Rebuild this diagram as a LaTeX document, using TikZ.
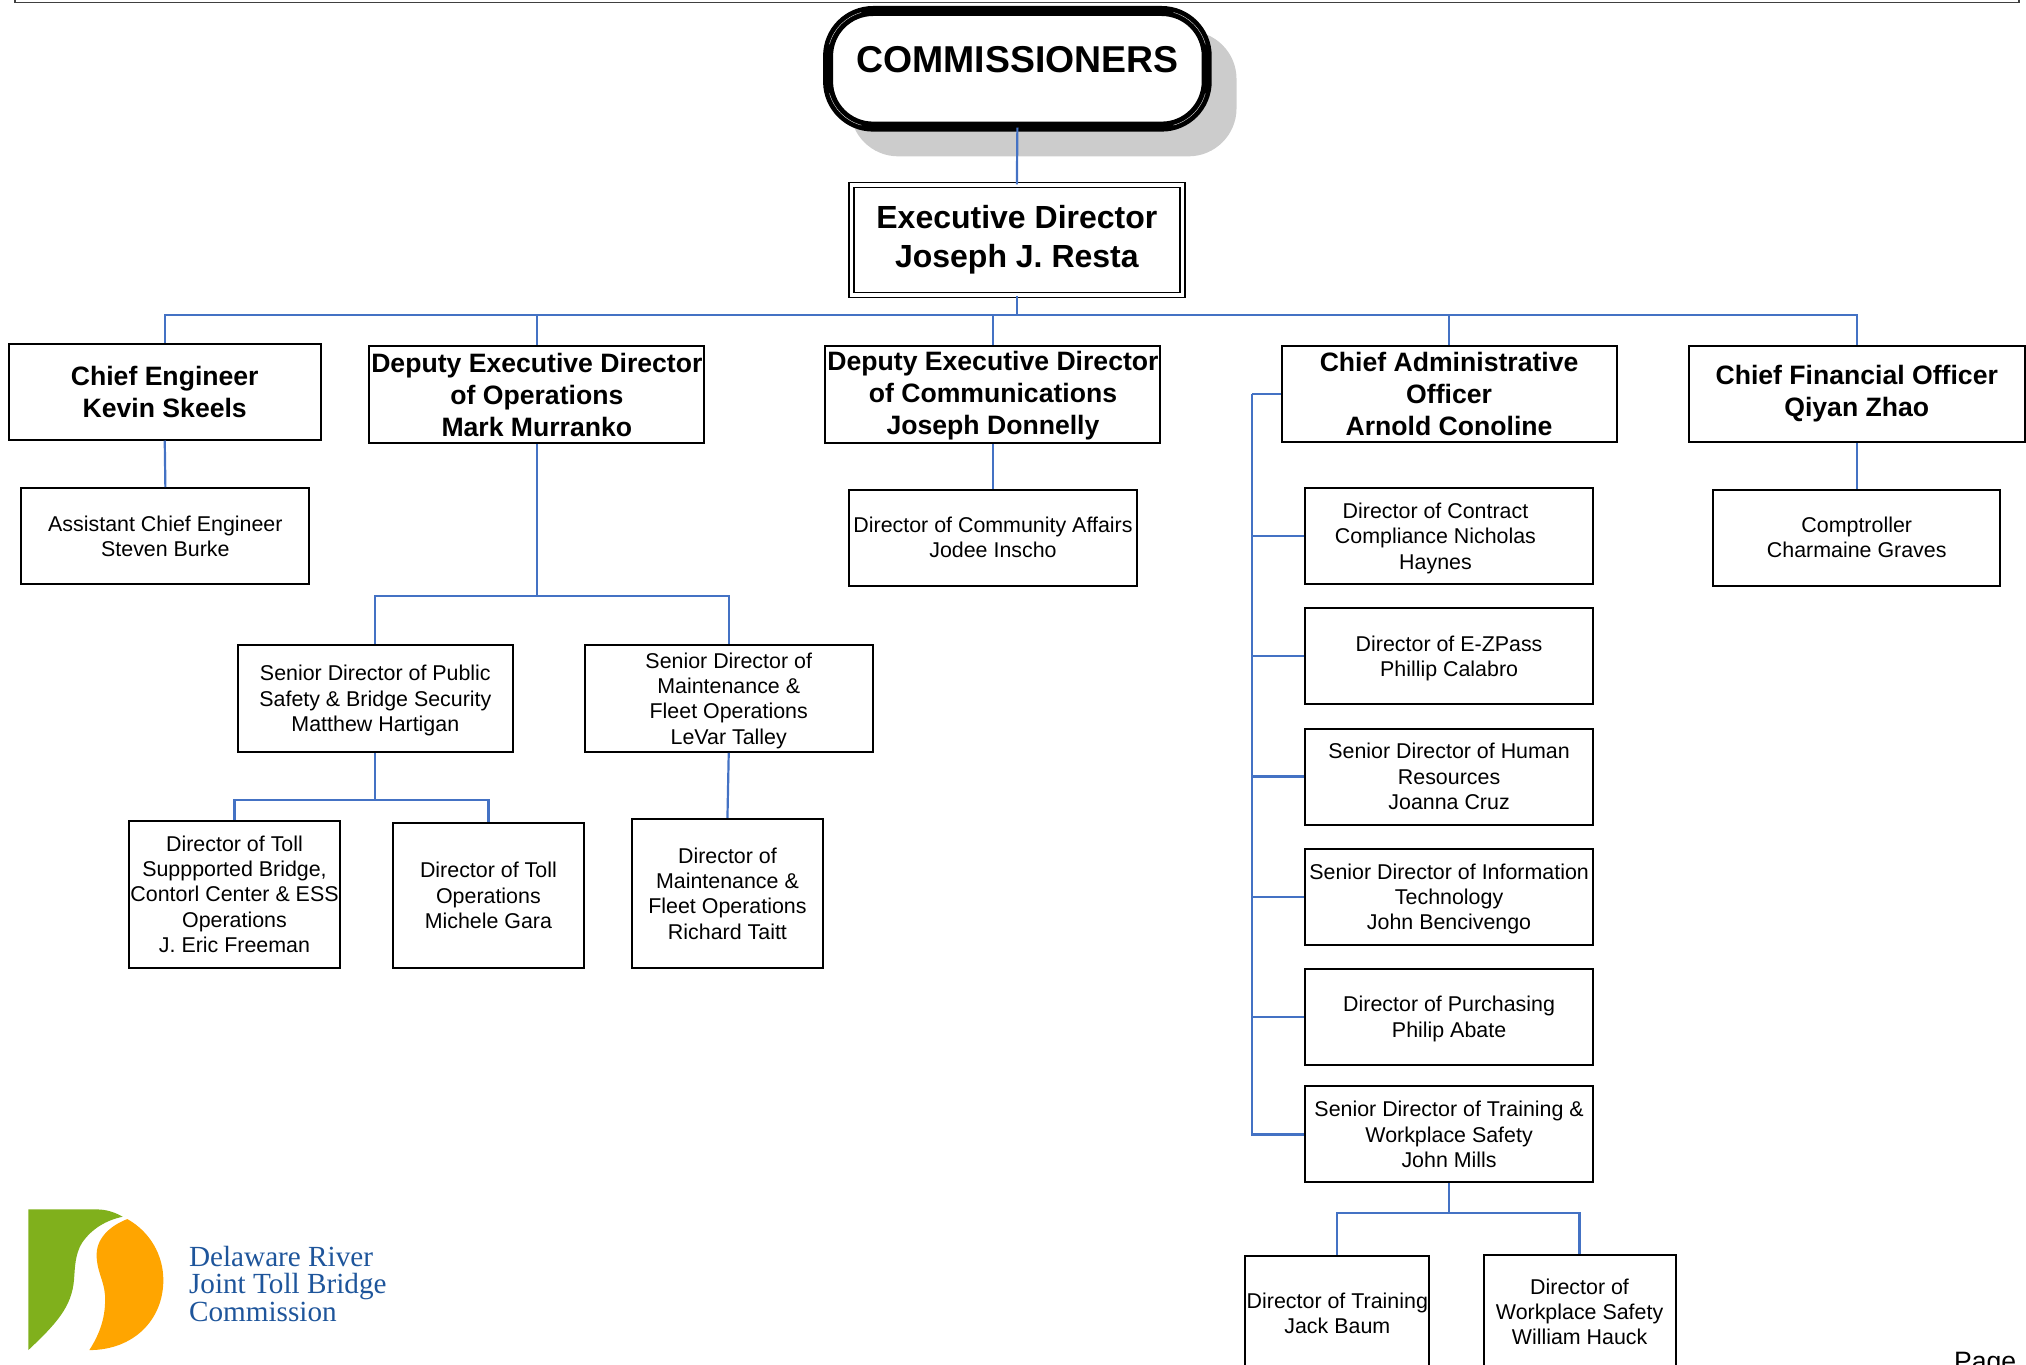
\documentclass[tikz,border=0pt]{standalone}
\usepackage{fontspec}
\setmainfont{Liberation Sans}
\newfontfamily\logofont{Liberation Serif}
\definecolor{linkblue}{RGB}{68,114,196}
\definecolor{logogreen}{RGB}{128,176,28}
\definecolor{logoorange}{RGB}{255,165,0}
\definecolor{logoblue}{RGB}{30,85,155}
\tikzset{
	orgbox/.style={draw,line width=1pt,inner sep=0pt,align=center,fill=white},
	headbox/.style={orgbox,font=\fontsize{13.3}{16}\selectfont\bfseries},
	staffbox/.style={orgbox,text depth=0pt,font=\fontsize{10.7}{12.7}\selectfont},
	link/.style={draw=linkblue,line width=1.1pt}
}
\begin{document}
\begin{tikzpicture}[x=0.646pt,y=-0.646pt]
	\clip (0,0) rectangle (1568,1056.4);
	\draw[line width=0.7pt,black!75] (11.6,-10) rectangle (1562.5,1.9);
	\fill[black!20,rounded corners=24pt] (658,24) rectangle (957,121);
	\node[draw,line width=5pt,rounded corners=22.5pt,fill=white,minimum width=189.3pt,minimum height=57.8pt,inner sep=0pt,align=center,font=\fontsize{18.7}{20}\selectfont\bfseries] (commissioners) at (787.4,53.25) {COMMISSIONERS\\[-11pt]~};
	\foreach \cx/\cy/\a in {675.6/43.3/90,899.2/43.3/0,899.2/63.2/-90,675.6/63.2/180}
		\draw[white,line width=0.15pt] ([shift={(\a+15:22.5pt)}]\cx,\cy) arc[start angle=\a+15,end angle=\a+75,radius=22.5pt];
	\node[headbox,double,double distance=1.6pt,line width=0.8pt,minimum width=165.5pt,minimum height=55pt,font=\fontsize{16}{19.4}\selectfont\bfseries] (exec) at (787,185.8) {Executive Director\\Joseph J. Resta};

	\node[headbox,minimum width=156pt,minimum height=48pt] (ce) at (127.5,303) {Chief Engineer\\Kevin Skeels};
	\node[headbox,minimum width=167.5pt,minimum height=48.5pt] (depops) at (415.5,305.5) {Deputy Executive Director\\of Operations\\Mark Murranko};
	\node[headbox,text depth=1.5pt,minimum width=167.5pt,minimum height=48.5pt] (depcomm) at (768.5,305.5) {Deputy Executive Director\\of Communications\\Joseph Donnelly};
	\node[headbox,minimum width=167.5pt,minimum height=48pt] (cao) at (1121.5,305) {Chief Administrative\\Officer\\Arnold Conoline};
	\node[headbox,minimum width=168pt,minimum height=48pt] (cfo) at (1437,305) {Chief Financial Officer\\Qiyan Zhao};

	\node[staffbox,minimum width=144pt,minimum height=48pt] (asstce) at (128,415) {Assistant Chief Engineer\\Steven Burke};
	\node[staffbox,minimum width=144pt,minimum height=48pt] (community) at (768.5,416) {Director of Community Affairs\\Jodee Inscho};
	\node[staffbox,minimum width=143.5pt,minimum height=48pt] (comptroller) at (1437,416) {Comptroller\\Charmaine Graves};

	\node[staffbox,minimum width=137.5pt,minimum height=53.5pt] (safety) at (290.5,540.5) {Senior Director of Public\\Safety \& Bridge Security\\Matthew Hartigan};
	\node[staffbox,minimum width=144pt,minimum height=53.5pt] (maint) at (564,540.5) {Senior Director of\\Maintenance \&\\Fleet Operations\\LeVar Talley};
	\node[staffbox,minimum width=105.5pt,minimum height=73.5pt] (tollbridge) at (181.5,692) {Director of Toll\\Suppported Bridge,\\Contorl Center \& ESS\\Operations\\J. Eric Freeman};
	\node[staffbox,minimum width=95.5pt,minimum height=72.5pt] (tollops) at (378,693) {Director of Toll\\Operations\\Michele Gara};
	\node[staffbox,minimum width=95.5pt,minimum height=74.5pt] (fleet) at (563,691.5) {Director of\\Maintenance \&\\Fleet Operations\\Richard Taitt};

	\node[staffbox,minimum width=144pt,minimum height=48pt] (contract) at (1121.5,415) {Director of Contract\rule{13.6pt}{0pt}\\Compliance Nicholas\rule{13.6pt}{0pt}\\Haynes\rule{13.6pt}{0pt}};
	\node[staffbox,minimum width=144pt,minimum height=48pt] (ezpass) at (1121.5,508) {Director of E-ZPass\\Phillip Calabro};
	\node[staffbox,minimum width=144pt,minimum height=48pt] (hr) at (1121.5,601) {Senior Director of Human\\Resources\\Joanna Cruz};
	\node[staffbox,minimum width=144pt,minimum height=48pt] (infotech) at (1121.5,694) {Senior Director of Information\\Technology\\John Bencivengo};
	\node[staffbox,minimum width=144pt,minimum height=48pt] (purchasing) at (1121.5,787) {Director of Purchasing\\Philip Abate};
	\node[staffbox,minimum width=144pt,minimum height=48pt] (training) at (1121.5,878) {Senior Director of Training \&\\Workplace Safety\\John Mills};
	\node[staffbox,minimum width=92pt,minimum height=70pt] (trainer) at (1035,1026) {Director of Training\\Jack Baum\\[0pt]};
	\node[staffbox,minimum width=96pt,minimum height=69.5pt] (workplace) at (1222.5,1025) {Director of\\Workplace Safety\\William Hauck\\[0pt]};

	\coordinate (topbus) at (787,244);
	\coordinate (opsbus) at (415.5,461);
	\coordinate (safetybus) at (290.5,619);
	\coordinate (trainbus) at (1121.5,939);
	\coordinate (caobus) at (969,305);

	\draw[link] ([yshift=2pt]commissioners.south) -- (exec.north);
	\draw[link] (exec.south) -- (topbus);
	\draw[link] (topbus) -| (ce.north);
	\draw[link] (topbus) -| (depops.north);
	\draw[link] (topbus) -| (depcomm.north);
	\draw[link] (topbus) -| (cao.north);
	\draw[link] (topbus) -| (cfo.north);

	\draw[link] (ce.south) -- (asstce.north);
	\draw[link] (depcomm.south) -- (community.north);
	\draw[link] (cfo.south) -- (comptroller.north);

	\draw[link] (depops.south) -- (opsbus);
	\draw[link] (opsbus) -| (safety.north);
	\draw[link] (opsbus) -| (maint.north);
	\draw[link] (safety.south) -- (safetybus);
	\draw[link] (safetybus) -| (tollbridge.north);
	\draw[link] (safetybus) -| (tollops.north);
	\draw[link] (maint.south) -- (fleet.north);

	\draw[link] (cao.west) -- (caobus);
	\draw[link] (caobus) |- (contract.west);
	\draw[link] (caobus) |- (ezpass.west);
	\draw[link] (caobus) |- (hr.west);
	\draw[link] (caobus) |- (infotech.west);
	\draw[link] (caobus) |- (purchasing.west);
	\draw[link] (caobus) |- (training.west);
	\draw[link] (training.south) -- (trainbus);
	\draw[link] (trainbus) -| (trainer.north);
	\draw[link] (trainbus) -| (workplace.north);

	\begin{scope}[shift={(0,913.3)},scale=0.258]
		\fill[logogreen] (85,88) -- (290,88) .. controls (320,88) and (345,97) .. (368,110) .. controls (320,120) and (275,145) .. (245,190) .. controls (225,225) and (225,260) .. (222,300) .. controls (215,380) and (170,430) .. (85,510) -- cycle;
		\fill[logoorange] (382,117) .. controls (450,155) and (490,225) .. (490,300) .. controls (490,420) and (400,510) .. (268,510) .. controls (300,460) and (318,410) .. (315,345) .. controls (312,300) and (288,270) .. (290,220) .. controls (292,170) and (335,135) .. (382,117) -- cycle;
	\end{scope}
	\node[anchor=north west,inner sep=0pt,align=left,text=logoblue,font=\fontsize{14.6}{13.8}\logofont] (logotext) at (146,964) {Delaware River\\Joint Toll Bridge\\Commission};
	\node[anchor=base west,inner sep=0pt,font=\fontsize{13.3}{14}\selectfont] (pagelabel) at (1512,1061) {Page};
\end{tikzpicture}
\end{document}
